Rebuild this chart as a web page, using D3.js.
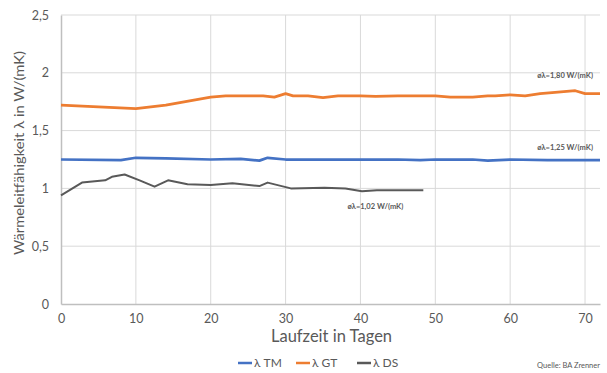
<!DOCTYPE html>
<html>
<head>
<meta charset="utf-8">
<script src="https://cdn.jsdelivr.net/npm/d3@7"></script>
<style>
  body { margin: 0; background: #fff; }
  text { font-family: Lato, "Open Sans", sans-serif; fill: #595959; }
</style>
</head>
<body>
<div id="chart"></div>
<script>
// data
var gtDays = [0, 10, 14, 20, 22, 25, 27, 28.5, 30, 31, 33, 35, 37, 40, 42, 45, 48, 50, 52, 55, 57, 58, 60, 62, 64, 66, 68.7, 70, 72];
var gtVals = [1.72, 1.69, 1.72, 1.79, 1.80, 1.80, 1.80, 1.79, 1.82, 1.80, 1.80, 1.785, 1.80, 1.80, 1.795, 1.80, 1.80, 1.80, 1.79, 1.79, 1.80, 1.80, 1.81, 1.80, 1.82, 1.83, 1.845, 1.82, 1.82];

var tmDays = [0, 8, 10, 14, 20, 24, 26.5, 27.6, 30, 35, 40, 45, 48, 50, 55, 57, 60, 65, 70, 72];
var tmVals = [1.25, 1.245, 1.265, 1.26, 1.25, 1.255, 1.24, 1.265, 1.25, 1.25, 1.25, 1.25, 1.245, 1.25, 1.25, 1.24, 1.25, 1.245, 1.245, 1.245];

var dsDays = [0, 2.8, 5.9, 6.8, 8.5, 10.5, 12.5, 14.3, 16.9, 20, 22.9, 26.5, 27.6, 30.7, 35.2, 38, 40.2, 42.2, 48.4];
var dsVals = [0.94, 1.05, 1.07, 1.10, 1.12, 1.07, 1.015, 1.07, 1.035, 1.03, 1.045, 1.02, 1.05, 1.00, 1.005, 1.00, 0.975, 0.985, 0.985];

var seriesNames = ["λ TM", "λ GT", "λ DS"];
var seriesColors = ["#4472c4", "#ed7d31", "#595959"];

var xTicks = [0, 10, 20, 30, 40, 50, 60, 70];
var yTicks = [0, 0.5, 1, 1.5, 2, 2.5];

var notes = ["øλ=1,80 W/(mK)", "øλ=1,25 W/(mK)", "øλ=1,02 W/(mK)"];

var margin = {top: 15, right: 7, bottom: 69, left: 61},
    width = 607 - margin.left - margin.right,
    height = 373 - margin.top - margin.bottom;

var svg = d3.select("#chart")
  .append("svg")
    .attr("width", 607)
    .attr("height", 373)
  .append("g")
    .attr("transform", "translate(" + margin.left + "," + margin.top + ")");

var x = d3.scaleLinear().domain([0, 72]).range([0, width]);
var y = d3.scaleLinear().domain([0, 2.5]).range([height, 0]);

// grid
svg.append("g")
  .selectAll("line.h")
  .data(yTicks.slice(1))
  .enter().append("line")
    .attr("x1", 0).attr("x2", width)
    .attr("y1", function(d) { return y(d); })
    .attr("y2", function(d) { return y(d); })
    .attr("stroke", "#d9d9d9");

svg.append("g")
  .selectAll("line.v")
  .data(xTicks.slice(1))
  .enter().append("line")
    .attr("x1", function(d) { return x(d); })
    .attr("x2", function(d) { return x(d); })
    .attr("y1", 0).attr("y2", height)
    .attr("stroke", "#d9d9d9");

// axes
var xAxis = svg.append("g")
  .attr("transform", "translate(0," + height + ")")
  .call(d3.axisBottom(x).tickValues(xTicks).tickSize(0).tickPadding(10));
xAxis.select(".domain").attr("stroke", "#bfbfbf").attr("stroke-width", 1.5);
xAxis.selectAll("text").style("font-size", "12.5px").attr("fill", "#595959");

var fmt = function(d) { return String(d).replace(".", ","); };
var yAxis = svg.append("g")
  .call(d3.axisLeft(y).tickValues(yTicks).tickFormat(fmt).tickSize(0).tickPadding(12));
yAxis.select(".domain").attr("stroke", "#bfbfbf").attr("stroke-width", 1.5);
yAxis.selectAll("text").style("font-size", "12.5px").attr("fill", "#595959");

// lines
var line = d3.line()
  .x(function(d) { return x(d[0]); })
  .y(function(d) { return y(d[1]); });

var series = [
  d3.zip(tmDays, tmVals),
  d3.zip(gtDays, gtVals),
  d3.zip(dsDays, dsVals)
];

svg.selectAll("path.series")
  .data(series)
  .enter().append("path")
    .attr("fill", "none")
    .attr("stroke", function(d, i) { return seriesColors[i]; })
    .attr("stroke-width", function(d, i) { return i == 2 ? 2 : 2.75; })
    .attr("stroke-linejoin", "round")
    .attr("d", line);

// averages
svg.append("text").attr("x", x(72) - 7).attr("y", y(1.955)).attr("text-anchor", "end")
  .style("font-size", "7.5px").style("font-weight", "bold").text(notes[0]);
svg.append("text").attr("x", x(72) - 7).attr("y", y(1.33)).attr("text-anchor", "end")
  .style("font-size", "7.5px").style("font-weight", "bold").text(notes[1]);
svg.append("text").attr("x", x(42)).attr("y", y(0.82)).attr("text-anchor", "middle")
  .style("font-size", "7.5px").style("font-weight", "bold").text(notes[2]);

// axis titles
svg.append("text")
  .attr("x", width / 2 + 1).attr("y", height + 38)
  .attr("text-anchor", "middle")
  .style("font-size", "16.5px")
  .text("Laufzeit in Tagen");

svg.append("text")
  .attr("transform", "translate(-37," + 138 + ") rotate(-90)")
  .attr("text-anchor", "middle")
  .attr("textLength", 204)
  .attr("lengthAdjust", "spacingAndGlyphs")
  .style("font-size", "14px")
  .text("Wärmeleitfähigkeit λ in W/(mK)");

// legend
var legend = svg.append("g").attr("transform", "translate(177," + (height + 63) + ")");
var legX = [0, 58, 119];
seriesNames.forEach(function(n, i) {
  legend.append("line")
    .attr("x1", legX[i]).attr("x2", legX[i] + 14)
    .attr("y1", -4).attr("y2", -4)
    .attr("stroke", seriesColors[i]).attr("stroke-width", 2.5);
  legend.append("text")
    .attr("x", legX[i] + 16).attr("y", 0)
    .style("font-size", "12px")
    .text(n);
});

svg.append("text")
  .attr("x", width).attr("y", height + 64)
  .attr("text-anchor", "end")
  .style("font-size", "7.5px")
  .attr("fill", "#404040")
  .text("Quelle: BA Zrenner");
</script>
</body>
</html>
